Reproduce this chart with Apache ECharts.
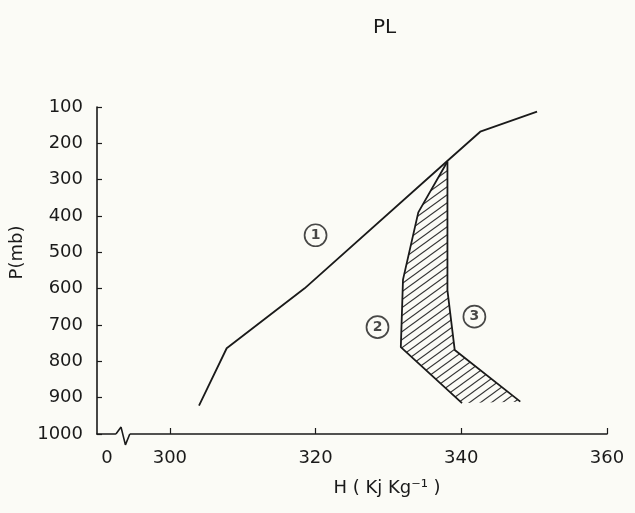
<!DOCTYPE html>
<html>
<head>
<meta charset="utf-8">
<script src="https://cdn.jsdelivr.net/npm/echarts@6/dist/echarts.min.js"></script>
<style>
html,body{margin:0;padding:0;background:#fbfbf6;}
#chart{width:635px;height:513px;}
</style>
</head>
<body>
<div id="chart"></div>
<script>
// ---- data ----
const titleText = 'PL';
const xAxisName = 'H ( Kj Kg\u207B\u00B9 )';
const yAxisName = 'P(mb)';
const xTickValues = [290, 300, 320, 340, 360];
const xTickLabels = ['0', '300', '320', '340', '360'];
const xMinorTicks = [300, 320, 340, 360];
const yTickLabels = ['100', '200', '300', '400', '500', '600', '700', '800', '900', '1000'];
// [H (kJ/kg), P (mb)]
const curve1 = [[304.0, 922], [307.8, 764], [318.5, 599], [338.0, 250], [342.6, 168], [350.4, 113]];
const curve2 = [[338.1, 250], [334.1, 390], [332.0, 575], [331.7, 761], [340.1, 915]];
const curve3 = [[338.1, 250], [338.1, 605], [339.1, 769], [348.1, 911]];
const curveTagNames = ['1', '2', '3'];
const curveTagPositions = [[320.0, 453], [328.5, 706], [341.8, 677]];
const axisBreakMark = [[292.6, 1000], [293.3, 981], [293.9, 1030], [294.5, 1000]];

// ---- styling ----
const INK = '#1a1a1a';
const BG = '#fbfbf6';
const FONT = 'DejaVu Sans';

function makeHatch() {
  const W = 11, H = 8;
  const c = document.createElement('canvas');
  c.width = W; c.height = H;
  const g = c.getContext('2d');
  g.strokeStyle = '#333333';
  g.lineWidth = 1.1;
  for (let k = -1; k <= 1; k++) {
    g.beginPath();
    g.moveTo(-W, 2 * H + k * H);
    g.lineTo(2 * W, -H + k * H);
    g.stroke();
  }
  return c;
}
const hatchImage = makeHatch();

const hatchPolygon = curve2.concat(curve3.slice().reverse());

const chart = echarts.init(document.getElementById('chart'), null, {renderer: 'canvas'});

const lineStyleCommon = {color: INK, width: 1.8};

chart.setOption({
  backgroundColor: BG,
  animation: false,
  title: {
    text: titleText,
    left: 368,
    top: 13,
    textStyle: {fontSize: 20, fontWeight: 'normal', color: INK, fontFamily: FONT}
  },
  grid: {left: 97, right: 28, top: 107, bottom: 79, containLabel: false},
  xAxis: {
    type: 'value',
    min: 290,
    max: 360,
    name: xAxisName,
    nameLocation: 'middle',
    nameGap: 45,
    nameTextStyle: {fontSize: 18, color: INK, fontFamily: FONT, padding: [0, 0, 0, 70]},
    axisLine: {show: true, lineStyle: {color: INK, width: 1.6}},
    axisTick: {show: true, inside: true, length: 6, customValues: xMinorTicks, lineStyle: {color: INK, width: 1.2}},
    axisLabel: {
      show: true,
      customValues: xTickValues,
      margin: 15,
      fontSize: 18,
      color: INK,
      fontFamily: FONT,
      formatter: function (v) {
        const i = xTickValues.indexOf(v);
        const t = i >= 0 ? xTickLabels[i] : '';
        return i === 0 ? '{z|' + t + '}' : t;
      },
      rich: {z: {fontSize: 18, color: INK, fontFamily: FONT, padding: [0, 0, 0, 20]}}
    },
    splitLine: {show: false}
  },
  yAxis: {
    type: 'value',
    inverse: true,
    min: 100,
    max: 1000,
    interval: 100,
    name: yAxisName,
    nameLocation: 'middle',
    nameRotate: 90,
    nameGap: 65,
    nameTextStyle: {fontSize: 18, color: INK, fontFamily: FONT, padding: [0, 0, 0, 36]},
    axisLine: {show: true, lineStyle: {color: INK, width: 1.6}},
    axisTick: {show: true, inside: true, length: 5, lineStyle: {color: INK, width: 1.2}},
    axisLabel: {
      margin: 14,
      fontSize: 18,
      color: INK,
      fontFamily: FONT,
      formatter: function (v) {
        const i = Math.round(v / 100) - 1;
        return yTickLabels[i] !== undefined ? yTickLabels[i] : '';
      }
    },
    splitLine: {show: false}
  },
  series: [
    {
      type: 'custom',
      name: 'hatch',
      silent: true,
      z: 1,
      data: hatchPolygon,
      encode: {x: 0, y: 1},
      renderItem: function (params, api) {
        if (params.dataIndex !== 0) return null;
        const pts = hatchPolygon.map(p => api.coord(p));
        return {
          type: 'polygon',
          shape: {points: pts},
          style: {fill: {image: hatchImage, repeat: 'repeat'}, stroke: null}
        };
      }
    },
    {type: 'line', name: '1', data: curve1, symbol: 'none', silent: true, z: 3, lineStyle: lineStyleCommon},
    {type: 'line', name: '2', data: curve2, symbol: 'none', silent: true, z: 3, lineStyle: lineStyleCommon},
    {type: 'line', name: '3', data: curve3, symbol: 'none', silent: true, z: 3, lineStyle: lineStyleCommon},
    {
      type: 'line',
      name: 'break-mask',
      data: [axisBreakMark[0], axisBreakMark[axisBreakMark.length - 1]],
      symbol: 'none', silent: true, clip: false, z: 4,
      lineStyle: {color: BG, width: 4}
    },
    {
      type: 'line',
      name: 'break',
      data: axisBreakMark,
      symbol: 'none', silent: true, clip: false, z: 5,
      lineStyle: {color: INK, width: 1.6}
    },
    {
      type: 'scatter',
      name: 'tags',
      silent: true,
      z: 6,
      symbol: 'circle',
      symbolSize: 22,
      itemStyle: {color: BG, borderColor: INK, borderWidth: 1.7},
      label: {
        show: true, position: 'inside', formatter: '{b}',
        fontSize: 14, fontWeight: 'bold', color: INK, fontFamily: FONT
      },
      data: curveTagNames.map((n, i) => ({name: n, value: curveTagPositions[i]}))
    }
  ]
});
</script>
</body>
</html>
